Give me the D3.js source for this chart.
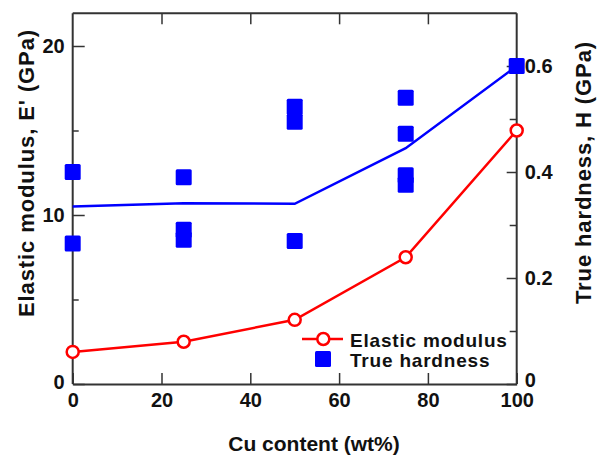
<!DOCTYPE html>
<html><head><meta charset="utf-8">
<script src="https://cdn.jsdelivr.net/npm/d3@7"></script>
<style>
body{margin:0;background:#fff;}
text{font-family:"Liberation Sans",Arial,sans-serif;font-weight:bold;fill:#111;}
</style></head>
<body><svg id="c" width="597" height="455"></svg>
<script>
const cuContent = [0, 25, 50, 75, 100];
const elasticModulus = [1.9, 2.5, 3.8, 7.5, 15.0];
const hardnessMean = [0.335, 0.341, 0.340, 0.445, 0.600];
const hardnessX = [0, 0, 25, 25, 25, 50, 50, 50, 75, 75, 75, 75, 100];
const hardnessY = [0.400, 0.265, 0.390, 0.291, 0.272, 0.523, 0.495, 0.270, 0.540, 0.472, 0.394, 0.376, 0.600];
const xTicks = [0, 20, 40, 60, 80, 100];
const leftTicks = [0, 10, 20];
const leftMinor = [5, 15];
const rightTicks = [0, 0.2, 0.4, 0.6];
const rightMinor = [0.1, 0.3, 0.5];
const legendLabels = ["Elastic modulus", "True hardness"];
const xTitle = "Cu content (wt%)";
const leftTitle = "Elastic modulus, E' (GPa)";
const rightTitle = "True hardness, H (GPa)";

const svg = d3.select("#c");
const L = 72.7, R = 516.7, T = 13.3, B = 384;
const x = d3.scaleLinear().domain([0, 100]).range([L, R]);
const yL = d3.scaleLinear().domain([0, 22]).range([B, B - 22 * 16.9]);
const yR = d3.scaleLinear().domain([0, 0.7]).range([B, B - 0.7 * 530]);
const axisColor = "#333";
const fs = 20;

function style(g) {
  g.select(".domain").attr("stroke", axisColor).attr("stroke-width", 2);
  g.selectAll(".tick line").attr("stroke", axisColor).attr("stroke-width", 1.5);
  g.selectAll("text").attr("font-size", fs).attr("font-family", null).attr("fill", "#111");
}

// frame top line
svg.append("line").attr("x1", L).attr("x2", R).attr("y1", T).attr("y2", T)
  .attr("stroke", axisColor).attr("stroke-width", 2);

// bottom axis
svg.append("g").attr("transform", `translate(0,${B})`)
  .call(d3.axisBottom(x).tickValues(xTicks).tickSizeInner(-11).tickSizeOuter(0).tickPadding(9).tickFormat(d3.format("d")))
  .call(style);
// top axis ticks
svg.append("g").attr("transform", `translate(0,${T})`)
  .call(d3.axisTop(x).tickValues(xTicks.filter(d => d > 0 && d < 100)).tickSizeInner(-11).tickSizeOuter(0).tickFormat(""))
  .call(style).call(g => g.select(".domain").remove());
// left axis
svg.append("g").attr("transform", `translate(${L},0)`)
  .call(d3.axisLeft(yL).tickValues(leftTicks).tickSizeInner(-12).tickSizeOuter(0).tickPadding(8).tickFormat(d3.format("d")))
  .call(style)
  .call(g => g.select(".domain").attr("d", `M0,${B}V${T}`))
  .call(g => g.selectAll(".tick text").filter(d => d === 0).attr("y", -1.5));
svg.append("g").attr("transform", `translate(${L},0)`)
  .call(d3.axisLeft(yL).tickValues(leftMinor).tickSizeInner(-6).tickSizeOuter(0).tickFormat(""))
  .call(style).call(g => g.select(".domain").remove());
// right axis
svg.append("g").attr("transform", `translate(${R},0)`)
  .call(d3.axisRight(yR).tickValues(rightTicks).tickSizeInner(-10).tickSizeOuter(0).tickPadding(8).tickFormat(d => d === 0 ? "0" : d3.format(".1f")(d)))
  .call(style)
  .call(g => g.select(".domain").attr("d", `M0,${B}V${T}`))
  .call(g => g.selectAll(".tick text").filter(d => d === 0).attr("y", -4));
svg.append("g").attr("transform", `translate(${R},0)`)
  .call(d3.axisRight(yR).tickValues(rightMinor).tickSizeInner(-7).tickSizeOuter(0).tickFormat(""))
  .call(style).call(g => g.select(".domain").remove());

// titles
svg.append("text").attr("x", 314).attr("y", 451).attr("text-anchor", "middle").attr("font-size", 21).text(xTitle);
svg.append("text").attr("transform", `translate(33.5,173) rotate(-90)`).attr("text-anchor", "middle")
  .attr("font-size", 22).attr("letter-spacing", 0.9).text(leftTitle);
svg.append("text").attr("transform", `translate(591,172.5) rotate(-90)`).attr("text-anchor", "middle")
  .attr("font-size", 22).attr("letter-spacing", 0.9).text(rightTitle);

const blue = "#0000ff", red = "#ff0000";
const sq = 16;

// hardness mean line
svg.append("path").datum(cuContent.map((c, i) => [c, hardnessMean[i]]))
  .attr("fill", "none").attr("stroke", blue).attr("stroke-width", 2.5)
  .attr("d", d3.line().x(d => x(d[0])).y(d => yR(d[1])));
// hardness squares
svg.append("g").selectAll("rect").data(hardnessX.map((c, i) => [c, hardnessY[i]])).join("rect")
  .attr("x", d => x(d[0]) - sq / 2).attr("y", d => yR(d[1]) - sq / 2)
  .attr("width", sq).attr("height", sq).attr("rx", 1.5).attr("fill", blue);

// elastic modulus
svg.append("path").datum(cuContent.map((c, i) => [c, elasticModulus[i]]))
  .attr("fill", "none").attr("stroke", red).attr("stroke-width", 2.5)
  .attr("d", d3.line().x(d => x(d[0])).y(d => yL(d[1])));
svg.append("g").selectAll("circle").data(cuContent.map((c, i) => [c, elasticModulus[i]])).join("circle")
  .attr("cx", d => x(d[0])).attr("cy", d => yL(d[1])).attr("r", 6)
  .attr("fill", "#fff").attr("stroke", red).attr("stroke-width", 2.5);

// legend
const lg = svg.append("g");
lg.append("line").attr("x1", 302).attr("x2", 343).attr("y1", 339).attr("y2", 339).attr("stroke", red).attr("stroke-width", 2.5);
lg.append("circle").attr("cx", 323.3).attr("cy", 339).attr("r", 6).attr("fill", "#fff").attr("stroke", red).attr("stroke-width", 2.5);
lg.append("rect").attr("x", 323 - sq / 2).attr("y", 359 - sq / 2).attr("width", sq).attr("height", sq).attr("rx", 1.5).attr("fill", blue);
lg.append("text").attr("x", 350).attr("y", 346.7).attr("font-size", 19).attr("letter-spacing", 0.8).text(legendLabels[0]);
lg.append("text").attr("x", 350).attr("y", 366.7).attr("font-size", 19).attr("letter-spacing", 0.8).text(legendLabels[1]);
</script></body></html>
